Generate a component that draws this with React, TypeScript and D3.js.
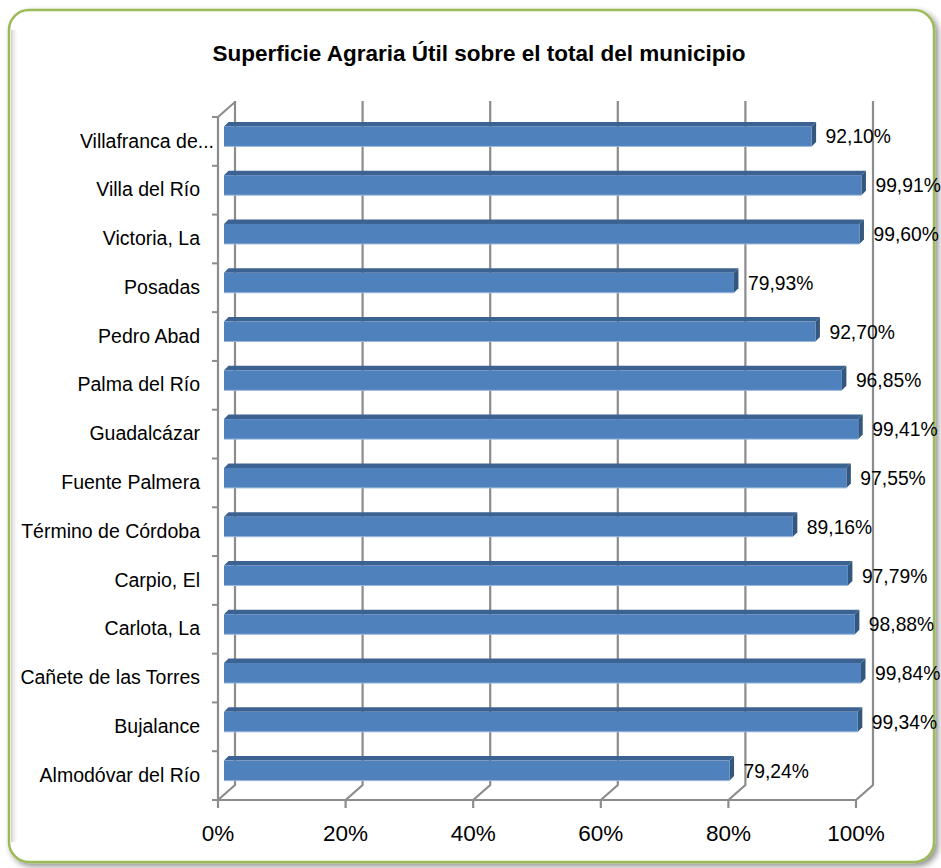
import React from "react";
import * as d3 from "d3";

const categories = [
  "Villafranca de...",
  "Villa del Río",
  "Victoria, La",
  "Posadas",
  "Pedro Abad",
  "Palma del Río",
  "Guadalcázar",
  "Fuente Palmera",
  "Término de Córdoba",
  "Carpio, El",
  "Carlota, La",
  "Cañete de las Torres",
  "Bujalance",
  "Almodóvar del Río",
];
const values = [92.1, 99.91, 99.6, 79.93, 92.7, 96.85, 99.41, 97.55, 89.16, 97.79, 98.88, 99.84, 99.34, 79.24];
const ticks = [0, 20, 40, 60, 80, 100];
const title = "Superficie Agraria Útil sobre el total del municipio";

const W = 941;
const H = 868;
const x0 = 218;
const x1 = 856;
const yTop = 117;
const yBot = 800;
const DX = 17;
const DY = -15;
const FONT = "'Liberation Sans', Arial, sans-serif";

export default function App() {
  const x = d3.scaleLinear().domain([0, 100]).range([x0, x1]);
  const y = d3.scaleBand().domain(categories).range([yTop, yBot]).paddingInner(0).paddingOuter(0);
  const bw = y.bandwidth();
  const fmt = (v: number) => d3.format(".2f")(v).replace(".", ",") + "%";
  const barH = 20;
  const bd = 4.5; // bar depth
  const bx = 6; // bar offset from front plane
  const barLen = (v: number) => x(v) - x(0);

  return (
    <svg width={W} height={H} style={{ position: "absolute", left: 0, top: 0, display: "block", background: "#fff" }}>
      <defs>
        <filter id="sh" x="-5%" y="-5%" width="110%" height="110%">
          <feGaussianBlur in="SourceAlpha" stdDeviation="3" />
          <feOffset dx="3" dy="3" result="b" />
          <feComponentTransfer>
            <feFuncA type="linear" slope="0.45" />
          </feComponentTransfer>
          <feMerge>
            <feMergeNode />
            <feMergeNode in="SourceGraphic" />
          </feMerge>
        </filter>
        <linearGradient id="lg" x1="0" x2="1" y1="0" y2="0">
          <stop offset="0" stopColor="#d0d0d0" />
          <stop offset="1" stopColor="#ffffff" stopOpacity="0" />
        </linearGradient>
      </defs>
      {/* frame */}
      <rect x={9} y={10} width={925} height={852} rx={20} fill="#fff" stroke="#9bbb59" strokeWidth={2.5} filter="url(#sh)" />
      <rect x={11} y={30} width={8} height={812} fill="url(#lg)" />

      {/* title */}
      <text x={479} y={61} textAnchor="middle" fontFamily={FONT} fontWeight="bold" fontSize={22.5} fill="#000">
        {title}
      </text>

      {/* back wall gridlines */}
      {ticks.map((t) => (
        <path
          key={"g" + t}
          d={`M${x(t)},${yBot} L${x(t) + DX},${yBot + DY} L${x(t) + DX},${yTop + DY - 1}`}
          fill="none"
          stroke="#8c8c8c"
          strokeWidth={2.2}
        />
      ))}
      {/* left wall top diagonal */}
      <path d={`M${x0},${yTop} L${x0 + DX},${yTop + DY}`} fill="none" stroke="#8c8c8c" strokeWidth={2} />

      {/* front axes */}
      <path d={`M${x0},${yTop} L${x0},${yBot} L${x1},${yBot}`} fill="none" stroke="#8c8c8c" strokeWidth={2.2} />
      {d3.range(categories.length + 1).map((i) => (
        <line key={"yt" + i} x1={x0 - 6} x2={x0} y1={yTop + i * bw} y2={yTop + i * bw} stroke="#8c8c8c" strokeWidth={2} />
      ))}
      {ticks.map((t) => (
        <line key={"xt" + t} x1={x(t)} x2={x(t)} y1={yBot} y2={yBot + 8} stroke="#8c8c8c" strokeWidth={2.2} />
      ))}

      {/* bars */}
      {categories.map((c, i) => {
        const v = values[i];
        const by = (y(c) as number) + bw / 2 - 5 - barH / 2;
        const bxs = x0 + bx;
        const L = barLen(v);
        return (
          <g key={c}>
            <path
              d={`M${bxs},${by} L${bxs + bd},${by - bd} L${bxs + L + bd},${by - bd} L${bxs + L},${by} Z`}
              fill="#3c6291"
            />
            <path
              d={`M${bxs + L},${by} L${bxs + L + bd},${by - bd} L${bxs + L + bd},${by + barH - bd} L${bxs + L},${by + barH} Z`}
              fill="#34577f"
            />
            <rect x={bxs} y={by} width={L} height={barH} fill="#4f81bd" />
            <line x1={bxs} x2={bxs + L} y1={by + barH} y2={by + barH} stroke="#9ab6dc" strokeWidth={1} />
            <text
              x={bxs + L + 14}
              y={by + barH / 2 + 2}
              dominantBaseline="middle"
              fontFamily={FONT}
              fontSize={19.3}
              fill="#000"
            >
              {fmt(v)}
            </text>
          </g>
        );
      })}

      {/* category labels */}
      {categories.map((c) => (
        <text
          key={"l" + c}
          x={c.endsWith("...") ? 214 : 200}
          y={(y(c) as number) + bw / 2 + 1}
          textAnchor="end"
          dominantBaseline="middle"
          fontFamily={FONT}
          fontSize={19.5}
          fill="#000"
        >
          {c}
        </text>
      ))}

      {/* x tick labels */}
      {ticks.map((t) => (
        <text key={"xl" + t} x={x(t)} y={835} textAnchor="middle" dominantBaseline="middle" fontFamily={FONT} fontSize={22.5} fill="#000">
          {t + "%"}
        </text>
      ))}
    </svg>
  );
}
